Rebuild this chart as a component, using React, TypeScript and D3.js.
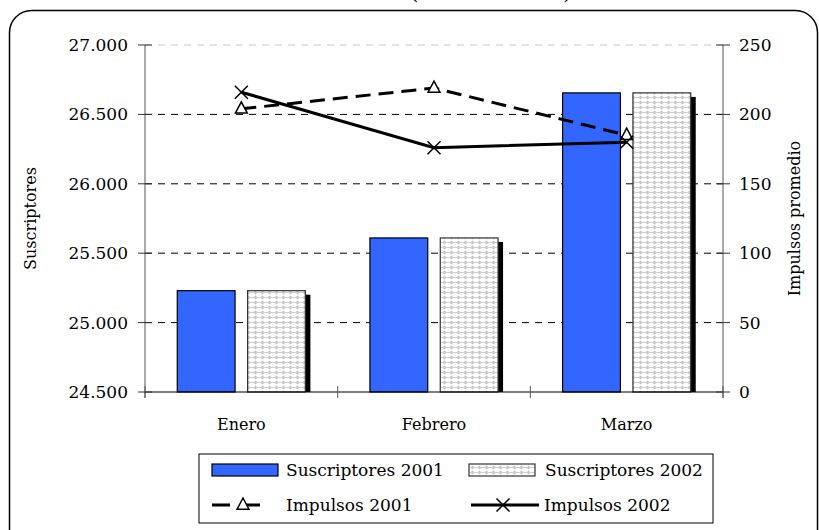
import React from "react";
import * as d3 from "d3";

const categories = ["Enero", "Febrero", "Marzo"];
const suscriptores2001 = [25230, 25610, 26655];
const suscriptores2002 = [25230, 25610, 26655];
const impulsos2001 = [204, 219, 185];
const impulsos2002 = [216, 176, 180];
const leftTicks = [24500, 25000, 25500, 26000, 26500, 27000];
const rightTicks = [0, 50, 100, 150, 200, 250];

const W = 819;
const H = 530;
const FONT = "'DejaVu Serif', serif";

const fmtThousands = (v: number) => {
  const s = Math.round(v).toString();
  return s.replace(/\B(?=(\d{3})+(?!\d))/g, ".");
};

export default function App() {
  const left = 145;
  const right = 723;
  const top = 45;
  const bottom = 392;

  const x = d3.scaleBand<string>().domain(categories).range([left, right]).padding(0);
  const yL = d3.scaleLinear().domain([24500, 27000]).range([bottom, top]);
  const yR = d3.scaleLinear().domain([0, 250]).range([bottom, top]);

  const bw = x.bandwidth();
  const barW = bw * 0.30;
  const gap = bw * 0.065;
  const padL = (bw - 2 * barW - gap) / 2;

  const cx = (c: string) => (x(c) as number) + bw / 2;

  const line2001 = d3
    .line<number>()
    .x((_, i) => cx(categories[i]))
    .y((d) => yR(d));
  const line2002 = d3
    .line<number>()
    .x((_, i) => cx(categories[i]))
    .y((d) => yR(d));

  const tri = (px: number, py: number, s = 7) =>
    `M${px},${py - s} L${px + s * 0.85},${py + s * 0.6} L${px - s * 0.85},${py + s * 0.6} Z`;
  const cross = (px: number, py: number, s = 6.5) =>
    `M${px - s},${py - s} L${px + s},${py + s} M${px - s},${py + s} L${px + s},${py - s}`;

  const xTicks = [...categories.map((c) => x(c) as number), right];

  // legend
  const lgX = 199, lgY = 454, lgW = 514, lgH = 69;
  const row1 = 470, row2 = 505;
  const col1 = 212, col2 = 469;
  const swW = 66;

  return (
    <svg
      width={W}
      height={H}
      style={{ position: "absolute", left: 0, top: 0, background: "#fff" }}
      fontFamily={FONT}
    >
      <defs>
        <pattern id="dots" width="7" height="5" patternUnits="userSpaceOnUse">
          <rect width="7" height="5" fill="#ffffff" />
          <path d="M3.5,0.6 L5.6,2.5 L3.5,4.4 L1.4,2.5 Z" fill="#bdbdbd" />
          <rect x="0" y="2" width="7" height="1" fill="#cfcfcf" />
        </pattern>
      </defs>

      {/* cut-off title parentheses */}
      <text x={410} y={-1} fontSize={22} fontFamily={FONT} fill="#000">(</text>
      <text x={563} y={-1} fontSize={22} fontFamily={FONT} fill="#000">)</text>

      {/* frame */}
      <rect x={9.5} y={10.5} width={808} height={600} rx={22} ry={22} fill="none" stroke="#000" strokeWidth={1.5} />

      {/* gridlines */}
      {leftTicks.slice(1).map((t) => (
        <line
          key={"g" + t}
          x1={left}
          x2={right}
          y1={yL(t)}
          y2={yL(t)}
          stroke={t === 27000 ? "#c8c8c8" : "#000"}
          strokeWidth={1}
          strokeDasharray="7,6"
        />
      ))}

      {/* bars */}
      {categories.map((c, i) => {
        const x0 = (x(c) as number) + padL;
        const x1 = x0 + barW + gap;
        const y1 = yL(suscriptores2001[i]);
        const y2 = yL(suscriptores2002[i]);
        return (
          <g key={c}>
            <rect x={x0} y={y1} width={barW} height={bottom - y1} fill="#3366ff" stroke="#000" strokeWidth={1.2} />
            <rect x={x1 + 5} y={y2 + 4} width={barW} height={bottom - y2 - 4} fill="#000" />
            <rect x={x1} y={y2} width={barW} height={bottom - y2} fill="url(#dots)" stroke="#333" strokeWidth={1.2} />
          </g>
        );
      })}

      {/* x axis */}
      <line x1={left} x2={right} y1={bottom} y2={bottom} stroke="#000" strokeWidth={1.2} />
      {xTicks.map((t, i) => (
        <line key={"xt" + i} x1={t} x2={t} y1={bottom - 6} y2={bottom + 6} stroke="#555" strokeWidth={1} />
      ))}
      {categories.map((c) => (
        <text key={"xl" + c} x={cx(c)} y={430} fontSize={16} textAnchor="middle" fill="#000">
          {c}
        </text>
      ))}

      {/* left axis */}
      <line x1={left} x2={left} y1={top} y2={bottom + 6} stroke="#555" strokeWidth={1} />
      {leftTicks.map((t) => (
        <g key={"lt" + t}>
          <line x1={left - 7} x2={left + 7} y1={yL(t)} y2={yL(t)} stroke="#333" strokeWidth={1} />
          <text x={128} y={yL(t)} dy="0.35em" fontSize={17} textAnchor="end" fill="#000">
            {fmtThousands(t)}
          </text>
        </g>
      ))}
      <text transform={`translate(36,${(top + bottom) / 2}) rotate(-90)`} fontSize={16} textAnchor="middle" fill="#000">
        Suscriptores
      </text>

      {/* right axis */}
      <line x1={right} x2={right} y1={top} y2={bottom + 6} stroke="#555" strokeWidth={1} />
      {rightTicks.map((t) => (
        <g key={"rt" + t}>
          <line x1={right - 7} x2={right + 7} y1={yR(t)} y2={yR(t)} stroke="#333" strokeWidth={1} />
          <text x={739} y={yR(t)} dy="0.35em" fontSize={17} textAnchor="start" fill="#000">
            {t}
          </text>
        </g>
      ))}
      <text transform={`translate(800,${(top + bottom) / 2}) rotate(-90)`} fontSize={16} textAnchor="middle" fill="#000">
        Impulsos promedio
      </text>

      {/* lines */}
      <path d={line2001(impulsos2001) || ""} fill="none" stroke="#000" strokeWidth={3} strokeDasharray="15,8" />
      <path d={line2002(impulsos2002) || ""} fill="none" stroke="#000" strokeWidth={3} />
      {impulsos2001.map((v, i) => (
        <path key={"m1" + i} d={tri(cx(categories[i]), yR(v))} fill="#fff" stroke="#000" strokeWidth={1.5} />
      ))}
      {impulsos2002.map((v, i) => (
        <path key={"m2" + i} d={cross(cx(categories[i]), yR(v))} fill="none" stroke="#000" strokeWidth={1.5} />
      ))}

      {/* legend */}
      <rect x={lgX} y={lgY} width={lgW} height={lgH} fill="#fff" stroke="#000" strokeWidth={1} />
      <rect x={col1} y={row1 - 6} width={swW} height={12} fill="#3366ff" stroke="#000" strokeWidth={1.2} />
      <text x={286} y={row1} dy="0.35em" fontSize={17} fill="#000">Suscriptores 2001</text>
      <rect x={col2} y={row1 - 6} width={swW} height={12} fill="url(#dots)" stroke="#333" strokeWidth={1.2} />
      <text x={545} y={row1} dy="0.35em" fontSize={17} fill="#000">Suscriptores 2002</text>

      <line x1={col1} x2={col1 + swW - 6} y1={row2} y2={row2} stroke="#000" strokeWidth={3} strokeDasharray="18,12" />
      <path d={tri(col1 + 31, row2)} fill="#fff" stroke="#000" strokeWidth={1.5} />
      <text x={286} y={row2} dy="0.35em" fontSize={17} fill="#000">Impulsos 2001</text>
      <line x1={col2 + 2} x2={col2 + 70} y1={row2} y2={row2} stroke="#000" strokeWidth={3} />
      <path d={cross(col2 + 34, row2)} fill="none" stroke="#000" strokeWidth={1.5} />
      <text x={544} y={row2} dy="0.35em" fontSize={17} fill="#000">Impulsos 2002</text>
    </svg>
  );
}
